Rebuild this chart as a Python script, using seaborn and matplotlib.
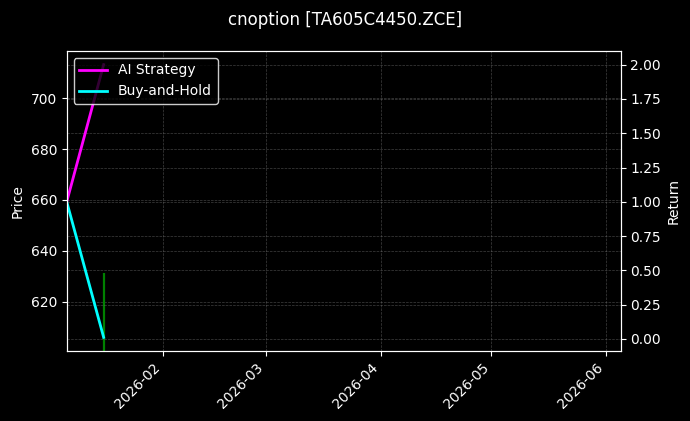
import pandas as pd
import matplotlib.pyplot as plt
import matplotlib.dates as mdates
import seaborn as sns

# data
dates = pd.to_datetime(["2026-01-06", "2026-01-16"])
ai_return = [1.0, 2.0]
bh_return = [1.0, 0.012]

candle_dates = pd.to_datetime(["2026-01-16"])
candle_high = [631.2]
candle_low = [598.0]

x_start = pd.Timestamp("2026-01-06")
x_end = pd.Timestamp("2026-06-05")

plt.style.use("dark_background")

df = pd.DataFrame({
    "date": list(dates) * 2,
    "ret": ai_return + bh_return,
    "series": ["AI Strategy"] * len(dates) + ["Buy-and-Hold"] * len(dates),
})

fig, ax = plt.subplots(figsize=(6.9, 4.21), dpi=100)
fig.subplots_adjust(left=0.0967, right=0.8996, bottom=0.1663, top=0.8789)

# price candles (only wick visible)
ax.vlines(candle_dates, candle_low, candle_high, color="green", linewidth=1.6)
ax.set_ylim(600.6, 718.6)
ax.set_ylabel("Price")
ax.grid(True, color="gray", linestyle="--", linewidth=0.5, alpha=0.5)

ax2 = ax.twinx()
sns.lineplot(data=df, x="date", y="ret", hue="series",
             palette={"AI Strategy": "magenta", "Buy-and-Hold": "cyan"},
             linewidth=2, ax=ax2)
ax2.set_ylabel("Return")
ax2.grid(True, color="gray", linestyle="--", linewidth=0.5, alpha=0.5)
ax2.legend(loc="upper left", facecolor="black", edgecolor="white")

ax.set_xlim(x_start, x_end)
ax.xaxis.set_major_locator(mdates.MonthLocator())
ax.xaxis.set_major_formatter(mdates.DateFormatter("%Y-%m"))
ax.set_xlabel("")
ax2.set_xlabel("")
plt.setp(ax.get_xticklabels(), rotation=45, ha="right")

fig.suptitle("cnoption [TA605C4450.ZCE]", fontsize=12, y=0.975)
fig.savefig("out.png", dpi=100)
